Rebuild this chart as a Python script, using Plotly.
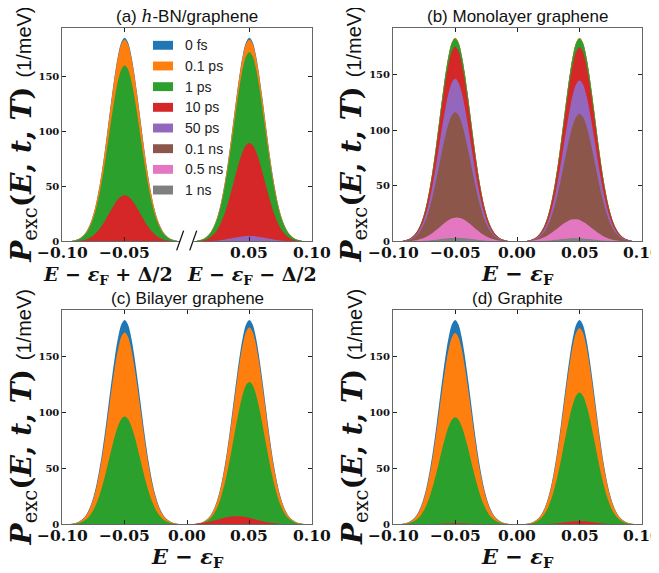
import plotly.graph_objects as go

# ---------------- data ----------------
TIME_LABELS = ["0 fs", "0.1 ps", "1 ps", "10 ps", "50 ps", "0.1 ns", "0.5 ns", "1 ns"]
COLORS = ["#1f77b4", "#ff7f0e", "#2ca02c", "#d62728", "#9467bd", "#8c564b", "#e377c2", "#7f7f7f"]

# energy offsets from a peak centre and the normalised peak profile
OFFSETS = [-0.05, -0.0475, -0.045, -0.0425, -0.04, -0.0375, -0.035, -0.0325, -0.03, -0.0275,
           -0.025, -0.0225, -0.02, -0.0175, -0.015, -0.0125, -0.01, -0.0075, -0.005, -0.0025,
           0.0, 0.0025, 0.005, 0.0075, 0.01, 0.0125, 0.015, 0.0175, 0.02, 0.0225,
           0.025, 0.0275, 0.03, 0.0325, 0.035, 0.0375, 0.04, 0.0425, 0.045, 0.0475, 0.05]
PROFILE = [0.0004, 0.0007, 0.0016, 0.003, 0.006, 0.011, 0.020, 0.034, 0.056, 0.089,
           0.135, 0.198, 0.278, 0.375, 0.487, 0.607, 0.726, 0.835, 0.923, 0.980,
           1.000, 0.980, 0.923, 0.835, 0.726, 0.607, 0.487, 0.375, 0.278, 0.198,
           0.135, 0.089, 0.056, 0.034, 0.020, 0.011, 0.006, 0.003, 0.0016, 0.0007, 0.0004]

# peak heights (1/meV) for each time, left peak / right peak
A_LEFT = [185.0, 183.4, 159.8, 42.0, 0.0, 0.0, 0.0, 0.0]
A_RIGHT = [185.0, 183.5, 171.8, 89.5, 5.0, 0.0, 0.0, 0.0]
B_LEFT = [183.2, 183.4, 182.8, 175.4, 146.4, 116.3, 21.6, 3.3]
B_RIGHT = [183.2, 183.4, 182.8, 174.9, 145.0, 114.8, 20.1, 3.0]
C_LEFT = [182.7, 171.5, 96.4, 0.3, 0.0, 0.0, 0.0, 0.0]
C_RIGHT = [182.7, 176.0, 127.3, 7.4, 0.0, 0.0, 0.0, 0.0]
D_LEFT = [182.7, 171.0, 95.8, 1.0, 0.0, 0.0, 0.0, 0.0]
D_RIGHT = [182.7, 175.4, 117.9, 3.0, 0.0, 0.0, 0.0, 0.0]

# peak centres and relative widths
A_CEN_LEFT = [-0.05] * 8
A_CEN_RIGHT = [0.05] * 8
A_WIDTH = [1.0, 1.0, 1.0, 1.0, 1.1, 1.0, 1.0, 1.0]
B_CEN_LEFT = [-0.05, -0.05, -0.05, -0.05, -0.05, -0.05, -0.0488, -0.049]
B_CEN_RIGHT = [0.05, 0.05, 0.05, 0.05, 0.05, 0.05, 0.0462, 0.047]
B_WIDTH = [1.0, 1.0, 1.0, 1.0, 1.0, 1.0, 1.08, 1.1]
C_CEN_LEFT = [-0.05] * 8
C_CEN_RIGHT = [0.05, 0.05, 0.05, 0.040, 0.05, 0.05, 0.05, 0.05]
C_WIDTH = [1.0, 1.0, 1.0, 1.2, 1.0, 1.0, 1.0, 1.0]
D_CEN_LEFT = [-0.05] * 8
D_CEN_RIGHT = [0.05] * 8
D_WIDTH = [1.0] * 8

X_TICKS_A = [-0.10, -0.05, 0.05, 0.10]
X_TICKS = [-0.10, -0.05, 0.00, 0.05, 0.10]
Y_TICKS = [0, 50, 100, 150]

PANELS = [
    dict(title="(a) <span style=\"font-family:'DejaVu Serif'\"><i>h</i></span>-BN/graphene",
         left=A_LEFT, right=A_RIGHT, cl=A_CEN_LEFT, cr=A_CEN_RIGHT, w=A_WIDTH, xticks=X_TICKS_A),
    dict(title="(b) Monolayer graphene",
         left=B_LEFT, right=B_RIGHT, cl=B_CEN_LEFT, cr=B_CEN_RIGHT, w=B_WIDTH, xticks=X_TICKS),
    dict(title="(c) Bilayer graphene",
         left=C_LEFT, right=C_RIGHT, cl=C_CEN_LEFT, cr=C_CEN_RIGHT, w=C_WIDTH, xticks=X_TICKS),
    dict(title="(d) Graphite",
         left=D_LEFT, right=D_RIGHT, cl=D_CEN_LEFT, cr=D_CEN_RIGHT, w=D_WIDTH, xticks=X_TICKS),
]

# ---------------- layout geometry (pixels of the 659x573 window) ----------------
PAGE_OFFSET = 8          # default body margin of the html page
W, H = 659 - PAGE_OFFSET, 573 - PAGE_OFFSET
XD = [(62.3, 311.7), (393.0, 641.7), (62.3, 311.7), (393.0, 641.7)]
YD = [(27.8, 244.0), (27.8, 244.0), (313.0, 530.0), (313.0, 530.0)]
TITLE_Y = [16.5, 16.5, 302, 302]

def px(x):
    return (x - PAGE_OFFSET) / W

def py(y):
    return 1 - (y - PAGE_OFFSET) / H

SERIF = "DejaVu Serif"
SANS = "Liberation Sans"

fig = go.Figure()
annotations = []
shapes = []

for p, panel in enumerate(PANELS):
    xa = "x" if p == 0 else f"x{p + 1}"
    ya = "y" if p == 0 else f"y{p + 1}"
    for i in range(len(TIME_LABELS)):
        for heights, cens in ((panel["left"], panel["cl"]), (panel["right"], panel["cr"])):
            h = heights[i]
            if h <= 0:
                continue
            xs = [cens[i] + panel["w"][i] * o for o in OFFSETS]
            ys = [h * v for v in PROFILE]
            fig.add_trace(go.Scatter(
                x=xs, y=ys, xaxis=xa, yaxis=ya, mode="lines",
                line=dict(width=0, color=COLORS[i], shape="spline"),
                fill="tozeroy", fillcolor=COLORS[i],
                name=TIME_LABELS[i], showlegend=False, hoverinfo="skip"))

    ymax = 1.05 * max(max(panel["left"]), max(panel["right"]))
    axis_common = dict(showline=True, linecolor="#666", linewidth=1, mirror="allticks",
                       ticks="inside", ticklen=4, tickwidth=1, tickcolor="#222",
                       showgrid=False, zeroline=False)
    xkey = "xaxis" if p == 0 else f"xaxis{p + 1}"
    ykey = "yaxis" if p == 0 else f"yaxis{p + 1}"
    fig.update_layout(**{
        xkey: dict(domain=[px(XD[p][0]), px(XD[p][1])], range=[-0.10, 0.10],
                   anchor=ya, tickvals=panel["xticks"], showticklabels=False,
                   **axis_common),
        ykey: dict(domain=[py(YD[p][1]), py(YD[p][0])], range=[0, ymax],
                   anchor=xa, tickvals=Y_TICKS,
                   tickfont=dict(family=SERIF, size=10, color="#111", weight="bold"),
                   **axis_common),
    })

    # x tick labels, placed at the tick values of this axis
    for v in panel["xticks"]:
        annotations.append(dict(text=f"{v:.2f}".replace("-", "\u2212"), xref=xa, yref="paper",
                                x=v, y=py(YD[p][1] + 11), xanchor="center", yanchor="middle",
                                showarrow=False,
                                font=dict(family=SERIF, size=15.5, color="#111", weight="bold")))

    cx = (XD[p][0] + XD[p][1]) / 2
    # panel title
    annotations.append(dict(text=panel["title"], xref="paper", yref="paper",
                            x=px(cx), y=py(TITLE_Y[p]), xanchor="center", yanchor="middle",
                            showarrow=False, font=dict(family=SANS, size=17, color="#111")))
    # y label
    ylab = ("<b><i>P</i></b><sub>exc</sub><b>(<i>E</i>, <i>t</i>, <i>T</i>)</b> "
            "<span style=\"font-family:'Liberation Sans';font-size:20px\">(1/meV)</span>")
    annotations.append(dict(text=ylab, xref="paper", yref="paper",
                            x=px(XD[p][0] - 39), y=py((YD[p][0] + YD[p][1]) / 2),
                            xanchor="center", yanchor="middle", textangle=-90,
                            showarrow=False, font=dict(family=SERIF, size=28, color="#111")))
    # x label
    if p == 0:
        for txt, xc in (("<b><i>E</i> − <i>ε</i><sub>F</sub> + Δ/2</b>", 108),
                        ("<b><i>E</i> − <i>ε</i><sub>F</sub> − Δ/2</b>", 252)):
            annotations.append(dict(text=txt, xref="paper", yref="paper",
                                    x=px(xc), y=py(YD[p][1] + 34), xanchor="center",
                                    yanchor="middle", showarrow=False,
                                    font=dict(family=SERIF, size=19, color="#111")))
    else:
        annotations.append(dict(text="<b><i>E</i> − <i>ε</i><sub>F</sub></b>", xref="paper",
                                yref="paper", x=px(cx), y=py(YD[p][1] + 33), xanchor="center",
                                yanchor="middle", showarrow=False,
                                font=dict(family=SERIF, size=21, color="#111")))

# axis break marks in panel (a)
shapes.append(dict(type="line", xref="x", yref="paper", x0=-0.0055, x1=0.0055,
                   y0=py(244.2), y1=py(244.2), line=dict(color="white", width=3), layer="above"))
for xc in (-0.0055, 0.0050):
    shapes.append(dict(type="line", xref="x", yref="paper", x0=xc - 0.0028, x1=xc + 0.0028,
                       y0=py(253), y1=py(233), line=dict(color="#111", width=1.3), layer="above"))

# legend of panel (a)
for i, lab in enumerate(TIME_LABELS):
    yc = 45.7 + 20.9 * i
    shapes.append(dict(type="rect", xref="paper", yref="paper",
                       x0=px(153), x1=px(173), y0=py(yc + 4.5), y1=py(yc - 4.5),
                       fillcolor=COLORS[i], line=dict(width=0), layer="above"))
    annotations.append(dict(text=lab, xref="paper", yref="paper", x=px(183), y=py(yc),
                            xanchor="left", yanchor="middle", showarrow=False,
                            font=dict(family=SANS, size=14, color="#222")))

fig.update_layout(width=W, height=H, margin=dict(l=0, r=0, t=0, b=0),
                  paper_bgcolor="white", plot_bgcolor="white",
                  annotations=annotations, shapes=shapes, showlegend=False)

fig.write_html("out.html")
